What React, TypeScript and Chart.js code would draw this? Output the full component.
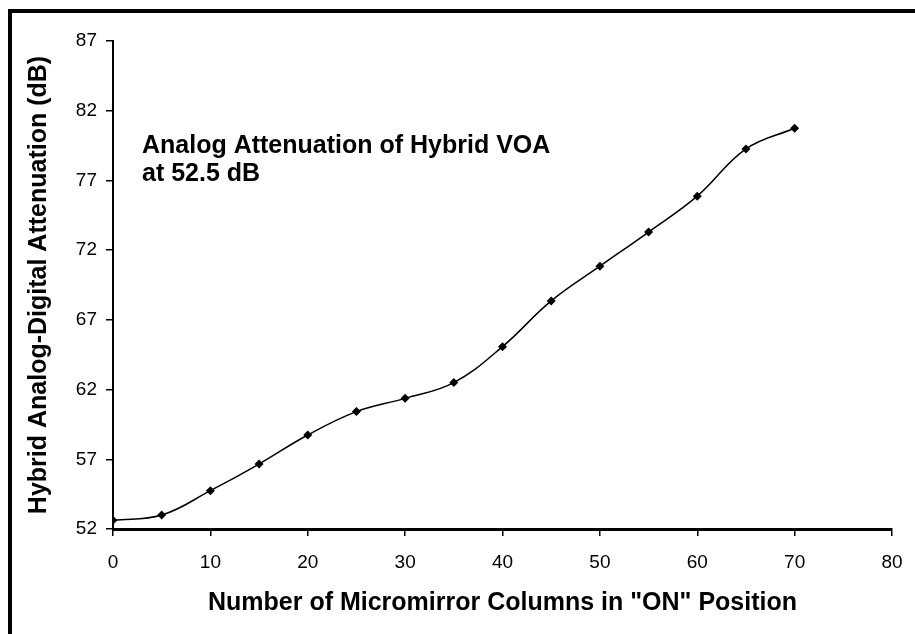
import React, { useEffect, useRef } from "react";
import { Chart, registerables } from "chart.js";

Chart.register(...registerables);

const columnsOn = [0, 5, 10, 15, 20, 25, 30, 35, 40, 45, 50, 55, 60, 65, 70];
const attenuation = [52.62, 53.0, 54.75, 56.66, 58.74, 60.42, 61.37, 62.5, 65.08, 68.36, 70.85, 73.3, 75.87, 79.26, 80.74];
const xTitle = 'Number of Micromirror Columns in "ON" Position';
const yTitle = "Hybrid Analog-Digital Attenuation (dB)";
const noteLines = ["Analog Attenuation of Hybrid VOA", "at 52.5 dB"];

const FONT = "'Liberation Sans', Arial, sans-serif";

const notePlugin = {
  id: "note",
  afterDraw(chart: any) {
    const ctx = chart.ctx;
    ctx.save();
    ctx.fillStyle = "#000";
    ctx.font = `bold 25px ${FONT}`;
    ctx.textBaseline = "alphabetic";
    ctx.textAlign = "left";
    ctx.fillText(noteLines[0], 142, 153);
    ctx.fillText(noteLines[1], 142, 181);
    ctx.restore();
  },
};

export default function App() {
  const ref = useRef<HTMLCanvasElement | null>(null);
  useEffect(() => {
    if (!ref.current) return;
    const chart = new Chart(ref.current, {
      type: "line",
      data: {
        datasets: [
          {
            data: columnsOn.map((x, i) => ({ x, y: attenuation[i] })),
            borderColor: "#000",
            backgroundColor: "#000",
            borderWidth: 1.5,
            tension: 0.4,
            pointStyle: "rectRot",
            pointRadius: 4.5,
            pointBorderWidth: 0,
            fill: false,
          },
        ],
      },
      plugins: [notePlugin],
      options: {
        animation: false,
        responsive: false,
        maintainAspectRatio: false,
        layout: { padding: { top: 41, right: 23, bottom: 0, left: 0 } },
        plugins: { legend: { display: false }, tooltip: { enabled: false }, title: { display: false } },
        scales: {
          x: {
            type: "linear",
            min: 0,
            max: 80,
            ticks: { stepSize: 10, color: "#000", font: { family: FONT, size: 19 }, padding: 15, maxRotation: 0 },
            grid: { display: true, drawOnChartArea: false, color: "#000", tickLength: 7, lineWidth: 1.5 },
            border: { color: "#000", width: 3 },
            title: {
              display: true,
              text: xTitle,
              color: "#000",
              font: { family: FONT, size: 25, weight: "bold" },
              padding: { top: 0, bottom: 16 },
            },
            afterFit: (s: any) => {
              s.height = 105;
              s.paddingLeft = 0;
              s.paddingRight = 0;
            },
          },
          y: {
            type: "linear",
            min: 52,
            max: 87,
            ticks: { stepSize: 5, color: "#000", font: { family: FONT, size: 19 }, padding: 9 },
            grid: { display: true, drawOnChartArea: false, color: "#000", tickLength: 7, lineWidth: 1.5 },
            border: { color: "#000", width: 2 },
            title: {
              display: true,
              text: yTitle,
              color: "#000",
              font: { family: FONT, size: 25, weight: "bold" },
              padding: { top: 24, bottom: 0 },
            },
            afterFit: (s: any) => {
              s.width = 113;
              s.paddingTop = 0;
              s.paddingBottom = 0;
            },
          },
        },
      },
    });
    return () => chart.destroy();
  }, []);
  return (
    <div style={{ position: "fixed", left: 0, top: 0, width: 915, height: 634, background: "#fff" }}>
      <canvas ref={ref} width={915} height={634} style={{ position: "absolute", left: 0, top: 0, width: 915, height: 634 }} />
      <div style={{ position: "absolute", left: 8, top: 9, width: 907, height: 4, background: "#000" }} />
      <div style={{ position: "absolute", left: 8, top: 9, width: 4, height: 625, background: "#000" }} />
    </div>
  );
}
